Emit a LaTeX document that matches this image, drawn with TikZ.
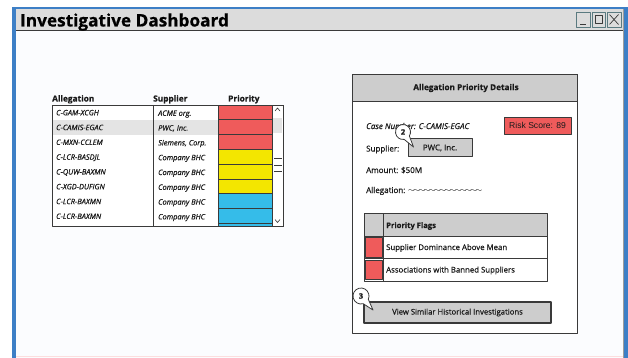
\documentclass[tikz,border=0pt]{standalone}
\usepackage{fontspec}
\setmainfont{Open Sans}[FakeBold=0.6]
\newfontfamily\arialfont{Liberation Sans}
\definecolor{frameblue}{HTML}{3D7FC6}
\definecolor{winbg}{HTML}{FBFCFE}
\definecolor{barc}{HTML}{DCDCDC}
\definecolor{linec}{HTML}{3A3A3A}
\definecolor{txt}{HTML}{1A1A1A}
\definecolor{redc}{HTML}{EF5B5B}
\definecolor{yelc}{HTML}{F3E600}
\definecolor{cyanc}{HTML}{35BCE9}
\definecolor{grayf}{HTML}{CDCDCD}
\definecolor{hlc}{HTML}{E4E4E4}
\definecolor{ctrlc}{HTML}{5A7A80}
\begin{document}
\begin{tikzpicture}[x=1pt,y=-1pt,line join=round,
  ln/.style={draw=linec,line width=0.8pt},
  lbl/.style={inner sep=0pt,text=txt,font=\fontsize{8}{9}\selectfont},
  cell/.style={inner sep=0pt,text=txt,font=\fontsize{7.4}{9}\selectfont\itshape},
  hdr/.style={inner sep=0pt,text=txt,font=\fontsize{8.3}{9}\selectfont\bfseries},
  ctrl/.style={draw=ctrlc,line width=0.7pt,fill=barc},
  callout/.style={draw=linec,line width=0.8pt,fill=white}]
\useasboundingbox (0,0) rectangle (628,358);
\fill[white] (0,0) rectangle (628,358);
% window
\fill[winbg] (16,9) rectangle (623,358);
\fill[barc] (16,9) rectangle (623,30);
\draw[linec,line width=0.8pt] (16,30) -- (623,30);
\draw[linec!50,line width=0.5pt] (623,9) -- (623,358);
\draw[redc!20,line width=0.6pt] (16,356) -- (623,356);
\fill[frameblue] (12,7) rectangle (16,358);
\fill[frameblue] (624,7) rectangle (628,358);
\fill[frameblue] (12,7) rectangle (628,9);
\node[anchor=base west,inner sep=0pt,text=black,font=\fontsize{17.2}{19}\selectfont\bfseries] (title) at (20,26.5) {Investigative Dashboard};
% window controls
\draw[ctrl] (576,12) rectangle (590,27);
\draw[ctrl] (592,12) rectangle (605,27);
\draw[ctrl] (607,12) rectangle (621,27);
\draw[linec,line width=0.9pt] (580,24) -- (586,24);
\draw[linec,line width=0.7pt] (595,15.5) rectangle (602,23.5);
\draw[linec,line width=0.7pt] (609.5,14.5) -- (618.5,24.5) (609.5,24.5) -- (618.5,14.5);
% left table headers
\node[hdr,anchor=base west] (hAll) at (52,101.5) {Allegation};
\node[hdr,anchor=base west] (hSup) at (153,101.5) {Supplier};
\node[hdr,anchor=base west] (hPri) at (228,101.5) {Priority};
% table body
\begin{scope}
\clip (52,105) rectangle (283,226);
\fill[white] (52,105) rectangle (283,226);
\fill[hlc] (52,119.8) rectangle (218,134.6);
\draw[ln] (153,105) -- (153,226);
\foreach \i/\a/\s/\c in {0/C-GAM-XCGH/ACME org./redc,
  1/C-CAMIS-EGAC/{PWC, Inc.}/redc,
  2/C-MXN-CCLEM/{Siemens, Corp.}/redc,
  3/C-LCR-BASDJL/Company BHC/yelc,
  4/C-QUW-BAXMN/Company BHC/yelc,
  5/C-XGD-DUFIGN/Company BHC/yelc,
  6/C-LCR-BAXMN/Company BHC/cyanc,
  7/C-LCR-BAXMN/Company BHC/cyanc,
  8/C-LCR-BAXMN/Company BHC/cyanc}{
  \pgfmathsetmacro{\yt}{105+14.8*\i}
  \draw[ln,fill=\c] (218,\yt) rectangle (272,\yt+14.8);
  \node[cell,anchor=base west] (a\i) at (56,\yt+10.3) {\a};
  \node[cell,anchor=base west] (s\i) at (158,\yt+10.8) {\s};
}
\end{scope}
\draw[ln] (52,105) rectangle (283,226);
% scrollbar
\draw[ln,fill=white] (272,105) rectangle (283,226);
\fill[hlc] (273,118) rectangle (282,133);
\draw[linec,line width=0.6pt] (275,111) -- (277.5,108) -- (280,111);
\draw[linec,line width=0.6pt] (275,219.5) -- (277.5,222.5) -- (280,219.5);
\draw[linec,line width=0.6pt] (274,158) -- (282,158) (274,165) -- (282,165) (274,171) -- (282,171);
% right panel
\draw[ln,fill=white] (352,74) rectangle (577,333);
\draw[ln,fill=grayf] (352,74) rectangle (577,101);
\node[hdr,font=\fontsize{8.2}{9}\selectfont\bfseries] (pTitle) at (466,88) {Allegation Priority Details};
\node[lbl,anchor=base west] (caseNo) at (366,129) {\itshape Case Number: C-CAMIS-EGAC};
\draw[ln,fill=redc] (504,117) rectangle (571,134);
\node[inner sep=0pt,text=txt,font=\arialfont\fontsize{8.6}{10}\selectfont] (risk) at (537.5,125.5) {Risk Score: 89};
\node[lbl,anchor=base west] (supL) at (366,151.5) {Supplier:};
\draw[ln,line width=1pt,fill=grayf] (408,139) rectangle (472,157);
\node[lbl] (pwc) at (440,148) {PWC, Inc.};
\node[lbl,anchor=base west] (amt) at (366,173) {Amount: \$50M};
\node[lbl,anchor=base west] (alg) at (366,193) {Allegation: \raisebox{0.5pt}{$\sim\!\sim\!\sim\!\sim\!\sim\!\sim\!\sim\!\sim\!\sim\!\sim\!\sim\!\sim\!\sim\!\sim$}};
% callout 2
\draw[callout] (403,132) ++(81:7.5) arc[start angle=81,end angle=392,radius=7.5] -- (413.5,147) -- cycle;
\node[lbl,font=\fontsize{7.5}{8}\selectfont\bfseries] (c2) at (403,132) {2};
% flags table
\draw[ln,fill=grayf] (364,213) rectangle (547,236);
\draw[ln,fill=white] (364,236) rectangle (547,258.5);
\draw[ln,fill=white] (364,258.5) rectangle (547,281);
\draw[ln] (383,213) -- (383,281);
\draw[ln,fill=redc] (365.5,237.5) rectangle (382,257);
\draw[ln,fill=redc] (365.5,260) rectangle (382,279.5);
\node[hdr,anchor=base west,font=\fontsize{7.6}{9}\selectfont\bfseries] (fH) at (386,228) {Priority Flags};
\node[lbl,anchor=base west,font=\fontsize{7.8}{9}\selectfont] (f1) at (386,250) {Supplier Dominance Above Mean};
\node[lbl,anchor=base west,font=\fontsize{7.8}{9}\selectfont] (f2) at (386,272.5) {Associations with Banned Suppliers};
% button
\draw[ln,line width=1.3pt,fill=grayf] (364,302) rectangle (551,323);
\node[lbl,font=\fontsize{7.7}{9}\selectfont] (btn) at (457.5,312.5) {View Similar Historical Investigations};
% callout 3
\draw[callout] (361,296) ++(74:8) arc[start angle=74,end angle=384,radius=8] -- (373,310) -- cycle;
\node[lbl,font=\fontsize{7.5}{8}\selectfont\bfseries] (c3) at (361,296) {3};
\end{tikzpicture}
\end{document}
